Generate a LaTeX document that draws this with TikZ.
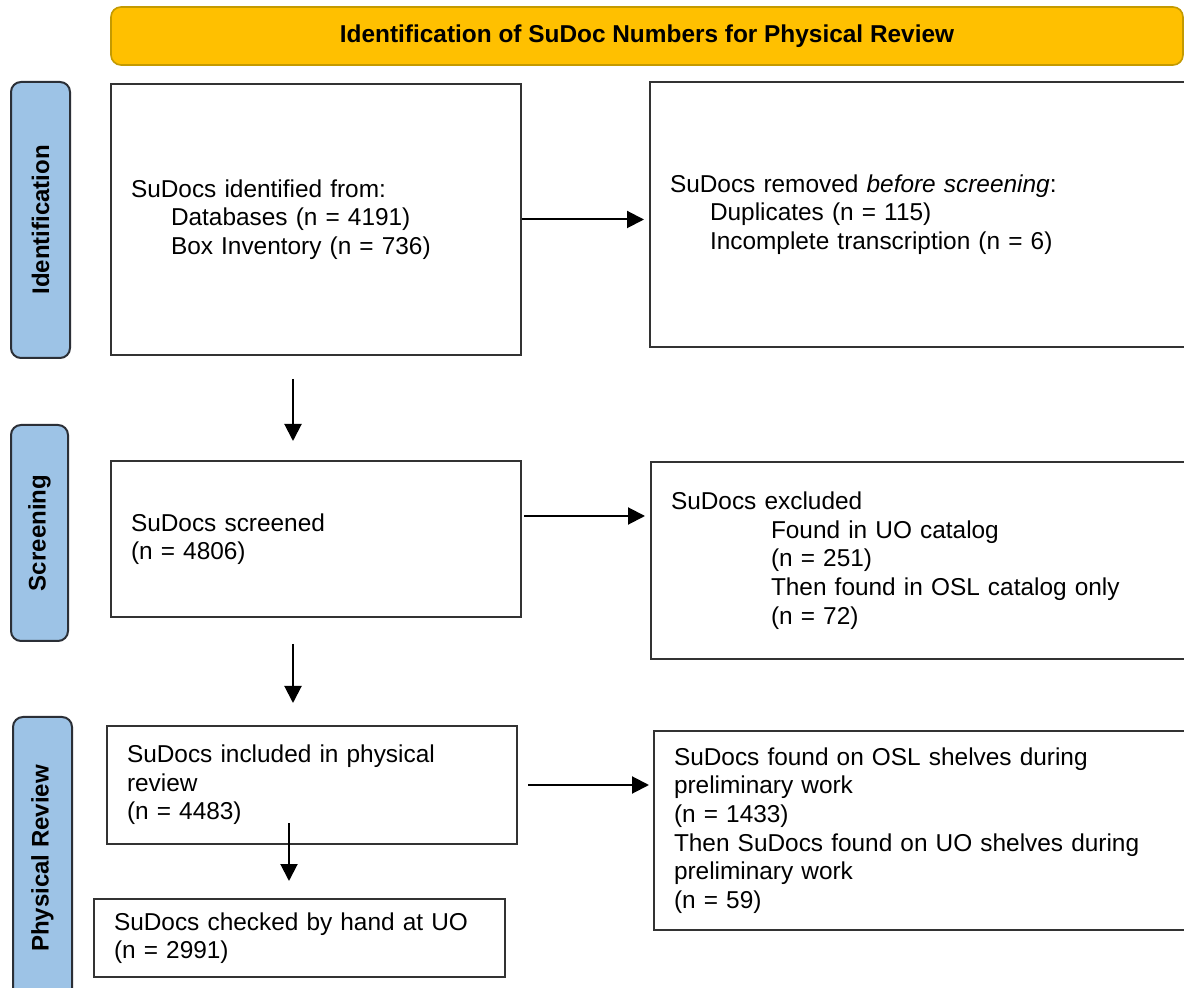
\documentclass[tikz,border=0pt]{standalone}
\usepackage{fontspec}
\setmainfont{Liberation Sans}
\usetikzlibrary{arrows.meta,calc}
\definecolor{bannerfill}{HTML}{FFC000}
\definecolor{bannerdraw}{HTML}{C49A00}
\definecolor{sidefill}{HTML}{9DC3E6}
\definecolor{sidedraw}{HTML}{2B2F36}
\tikzset{
  stagebox/.style={draw=black!80, line width=1pt, fill=white, inner xsep=10pt, inner ysep=0pt, align=left,
    font=\fontsize{12.2}{14.3}\selectfont},
  sidelabel/.style={draw=sidedraw, fill=sidefill, line width=1pt, rounded corners=5pt, rotate=90,
    font=\fontsize{12}{14}\selectfont\bfseries, inner sep=0pt},
  banner/.style={draw=bannerdraw, fill=bannerfill, line width=0.8pt, rounded corners=5pt,
    font=\fontsize{12.2}{14}\selectfont\bfseries, inner sep=0pt},
  arr/.style={-{Triangle[length=8.5pt,width=8.5pt]}, line width=1pt, black},
}
\begin{document}
\begin{tikzpicture}[x=0.5pt,y=-0.5pt]
\useasboundingbox (0,0) rectangle (1184,988);
\clip (0,0) rectangle (1184,988);
\fill[white] (0,0) rectangle (1184,988);

% banner
\node[banner, minimum width=536pt, minimum height=29pt] (ban) at (647,36)
  {Identification of SuDoc Numbers for Physical Review};

% side labels
\node[sidelabel, minimum width=138pt, minimum height=29.5pt] (l1) at (40.5,220) {Identification};
\node[sidelabel, minimum width=108pt, minimum height=28.5pt] (l2) at (39.5,533) {Screening};
\node[sidelabel, minimum width=141.5pt, minimum height=29.5pt] (l3) at (42.5,858.5) {Physical Review};

% boxes
\node[stagebox, minimum width=205pt, text width=185pt, minimum height=135.5pt] (b1) at (316,219.5)
  {SuDocs identified from:\\
   \hspace*{20pt}Databases (n = 4191)\\
   \hspace*{20pt}Box Inventory (n = 736)};
\node[stagebox, minimum width=275pt, text width=255pt, minimum height=132.5pt] (b2) at (925,214.5)
  {SuDocs removed \textit{before screening}:\\
   \hspace*{20pt}Duplicates (n = 115)\\
   \hspace*{20pt}Incomplete transcription (n = 6)};
\node[stagebox, minimum width=205pt, text width=185pt, minimum height=78pt] (b3) at (316,539)
  {SuDocs screened\\(n = 4806)};
\node[stagebox, minimum width=274.5pt, text width=254.5pt, minimum height=98.5pt] (b4) at (925.5,560.5)
  {SuDocs excluded\\
   \hspace*{50pt}Found in UO catalog\\
   \hspace*{50pt}(n = 251)\\
   \hspace*{50pt}Then found in OSL catalog only\\
   \hspace*{50pt}(n = 72)};
\node[stagebox, minimum width=205pt, text width=185pt, minimum height=59pt] (b5) at (312,785)
  {SuDocs included in physical\\review\\(n = 4483)};
\node[stagebox, minimum width=205.5pt, text width=185.5pt, minimum height=39pt] (b6) at (299.5,938)
  {SuDocs checked by hand at UO\\(n = 2991)};
\node[stagebox, minimum width=273pt, text width=253pt, minimum height=99.5pt] (b7) at (927,830.5)
  {SuDocs found on OSL shelves during\\preliminary work\\(n = 1433)\\
   Then SuDocs found on UO shelves during\\preliminary work\\(n = 59)};

% connectors
\draw[arr, shorten >=2.5pt] (b1.east) -- (b1.east -| b2.west);
\coordinate (d1s) at ([xshift=-11.5pt,yshift=-11.5pt]b1.south);
\draw[arr, shorten >=9.5pt] (d1s) -- (d1s |- b3.north);
\coordinate (h2s) at ([yshift=11.5pt]b3.east);
\draw[arr, shorten <=1pt, shorten >=2.5pt] (h2s) -- (h2s -| b4.west);
\coordinate (d2s) at ([xshift=-11.5pt,yshift=-13pt]b3.south);
\draw[arr, shorten >=11pt] (d2s) -- (d2s |- b5.north);
\coordinate (d3s) at ([xshift=-11.5pt,yshift=11pt]b5.south);
\draw[arr, shorten >=8.5pt] (d3s) -- (d3s |- b6.north);
\draw[arr, shorten <=5pt, shorten >=2pt] (b5.east) -- (b5.east -| b7.west);
\end{tikzpicture}
\end{document}
